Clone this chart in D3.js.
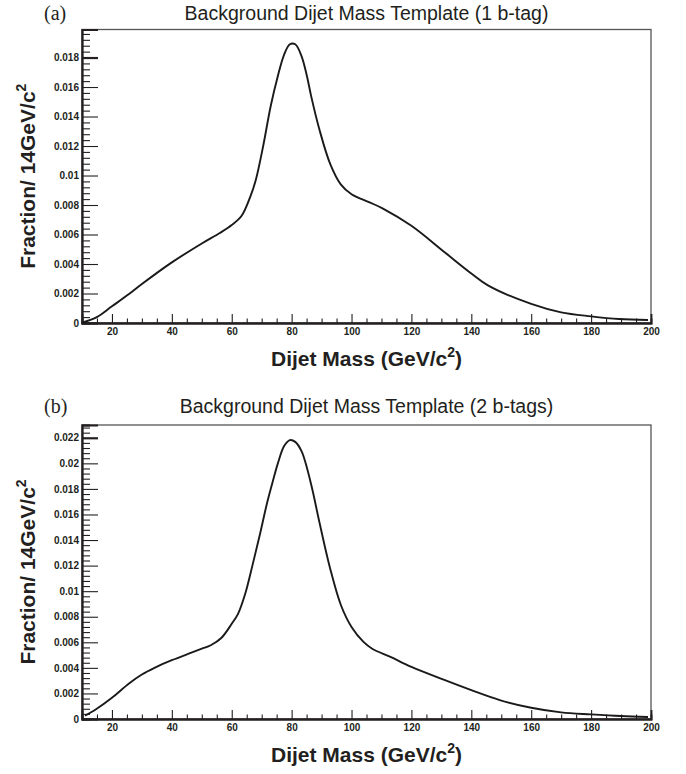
<!DOCTYPE html>
<html>
<head>
<meta charset="utf-8">
<script src="https://cdn.jsdelivr.net/npm/d3@7/dist/d3.min.js"></script>
<style>
  html, body { margin: 0; padding: 0; background: #fff; }
  svg { display: block; }
  .tick-label { font-family: "Liberation Sans", Arial, Helvetica, sans-serif; font-weight: bold; font-size: 10px; fill: #231f20; }
  .axis-title { font-family: "Liberation Sans", Arial, Helvetica, sans-serif; font-weight: bold; font-size: 21px; fill: #231f20; }
  .plot-title { font-family: "Liberation Sans", Arial, Helvetica, sans-serif; font-size: 19.5px; fill: #231f20; }
  .panel-tag { font-family: "Liberation Serif", "Times New Roman", serif; font-size: 20px; fill: #231f20; }
</style>
</head>
<body>
<svg id="chart" width="686" height="774"></svg>
<script>
// ---------------- data ----------------
const panelTags = ["(a)", "(b)"];
const panelTitles = ["Background Dijet Mass Template (1 b-tag)", "Background Dijet Mass Template (2 b-tags)"];
const xTitle = "Dijet Mass (GeV/c";
const yTitle = "Fraction/ 14GeV/c";

const xDomain = [10, 200];
const xTickValues = [20, 40, 60, 80, 100, 120, 140, 160, 180, 200];
const xTickLabels = ["20", "40", "60", "80", "100", "120", "140", "160", "180", "200"];
const xMinorStep = 5;

// Panel (a): 1 b-tag
const massA = [10, 14.8, 20, 25.7, 30, 40, 50, 56, 60, 63.3, 66.3, 68.1, 70.5, 73, 75.4, 77.5, 79.4, 81.2, 83.3, 85.1, 86.5, 89.3, 92.9, 96.4, 100, 105.8, 110.5, 120, 131.2, 140, 145.7, 160, 170, 180, 189.3, 199];
const fracA = [0.00002, 0.00038, 0.00113, 0.00196, 0.00264, 0.00411, 0.00539, 0.0061, 0.00664, 0.00727, 0.00862, 0.00975, 0.0120, 0.0147, 0.01675, 0.0182, 0.0189, 0.0189, 0.0181, 0.01675, 0.0154, 0.0131, 0.01077, 0.0094, 0.00873, 0.0082, 0.00776, 0.00659, 0.00478, 0.00336, 0.00253, 0.00129, 0.00072, 0.00045, 0.00027, 0.0002];
const yDomainA = [0, 0.0199];
const yTicksA = [0, 0.002, 0.004, 0.006, 0.008, 0.01, 0.012, 0.014, 0.016, 0.018];
const yTickLabelsA = ["0", "0.002", "0.004", "0.006", "0.008", "0.01", "0.012", "0.014", "0.016", "0.018"];

// Panel (b): 2 b-tags
const massB = [11, 14.8, 20, 25.7, 30, 34.2, 40, 46.3, 50, 53, 56.6, 60, 62.1, 64.5, 66.9, 69.3, 71.8, 73.9, 75.4, 77.5, 79.4, 81.2, 83.3, 85.1, 86.9, 89.3, 92.9, 96.5, 100, 104, 106.9, 113, 120, 131.2, 140, 149.5, 160, 170, 180, 190, 199];
const fracB = [0.00026, 0.00078, 0.00166, 0.00278, 0.00348, 0.0040, 0.0046, 0.00517, 0.0055, 0.00577, 0.00636, 0.00745, 0.00823, 0.0098, 0.0120, 0.01433, 0.0169, 0.01875, 0.0200, 0.02135, 0.02182, 0.02168, 0.02096, 0.01966, 0.01797, 0.01537, 0.01174, 0.00888, 0.0072, 0.00603, 0.0055, 0.00486, 0.00408, 0.00304, 0.00226, 0.00148, 0.00088, 0.00052, 0.00036, 0.00023, 0.00016];
const yDomainB = [0, 0.0230];
const yTicksB = [0, 0.002, 0.004, 0.006, 0.008, 0.01, 0.012, 0.014, 0.016, 0.018, 0.02, 0.022];
const yTickLabelsB = ["0", "0.002", "0.004", "0.006", "0.008", "0.01", "0.012", "0.014", "0.016", "0.018", "0.02", "0.022"];
const yMinorStep = 0.0004;

// ---------------- drawing ----------------
const svg = d3.select("#chart");
const ink = "#231f20";

function drawPanel(opt) {
  const left = 82, right = 651;
  const top = opt.top, bottom = opt.bottom;
  const g = svg.append("g");

  const x = d3.scaleLinear().domain(xDomain).range([left, right]);
  const y = d3.scaleLinear().domain(opt.yDomain).range([bottom, top]);

  // frame
  g.append("rect")
    .attr("x", left).attr("y", top)
    .attr("width", right - left).attr("height", bottom - top)
    .attr("fill", "none").attr("stroke", "#555").attr("stroke-width", 1.3);

  // x axis
  const xMinor = d3.range(15, xDomain[1] + 0.001, xMinorStep).filter(v => !xTickValues.includes(v));
  const xAxisMajor = d3.axisBottom(x).tickValues(xTickValues).tickSize(-9)
    .tickFormat((d, i) => xTickLabels[i]).tickPadding(14);
  const xAxisMinor = d3.axisBottom(x).tickValues(xMinor).tickSize(-4.5).tickFormat("");

  const gxm = g.append("g").attr("transform", `translate(0,${bottom})`).call(xAxisMinor);
  const gx = g.append("g").attr("transform", `translate(0,${bottom})`).call(xAxisMajor);
  [gx, gxm].forEach(a => {
    a.select(".domain").attr("stroke", ink).attr("stroke-width", 1.8);
    a.selectAll(".tick line").attr("stroke", ink).attr("stroke-width", 1.1);
  });
  gx.selectAll(".tick text").attr("class", "tick-label").attr("dy", "0.35em").attr("y", 8);

  // y axis
  const yMinor = d3.range(0, opt.yDomain[1] + 1e-9, yMinorStep)
    .filter(v => !opt.yTicks.some(t => Math.abs(t - v) < 1e-9));
  const yAxisMajor = d3.axisLeft(y).tickValues(opt.yTicks).tickSize(-16)
    .tickFormat((d, i) => opt.yTickLabels[i]).tickPadding(3);
  const yAxisMinor = d3.axisLeft(y).tickValues(yMinor).tickSize(-8).tickFormat("");
  const gym = g.append("g").attr("transform", `translate(${left},0)`).call(yAxisMinor);
  const gy = g.append("g").attr("transform", `translate(${left},0)`).call(yAxisMajor);
  [gy, gym].forEach(a => {
    a.select(".domain").attr("stroke", ink).attr("stroke-width", 1.8);
    a.selectAll(".tick line").attr("stroke", ink).attr("stroke-width", 1.1);
  });
  gy.selectAll(".tick text").attr("class", "tick-label").attr("x", -3);
  gy.selectAll(".tick line").filter(d => d === opt.heavyTick).attr("stroke-width", 2.2);

  // curve
  const line = d3.line()
    .x((d, i) => x(opt.xs[i]))
    .y((d, i) => y(opt.ys[i]))
    .curve(d3.curveCatmullRom.alpha(0.5));
  g.append("path")
    .datum(opt.xs)
    .attr("d", line)
    .attr("fill", "none")
    .attr("stroke", "#1a1a1a")
    .attr("stroke-width", 1.9)
    .attr("stroke-linejoin", "round");

  // titles
  g.append("text").attr("class", "panel-tag").attr("x", 44).attr("y", opt.titleY).text(opt.tag);
  g.append("text").attr("class", "plot-title").attr("x", (left + right) / 2).attr("y", opt.titleY)
    .attr("text-anchor", "middle").text(opt.title);

  const xt = g.append("text").attr("class", "axis-title")
    .attr("x", (left + right) / 2).attr("y", bottom + 43).attr("text-anchor", "middle");
  xt.append("tspan").text(xTitle);
  xt.append("tspan").attr("font-size", "14px").attr("dy", "-9").text("2");
  xt.append("tspan").attr("dy", "9").text(")");

  const yt = g.append("text").attr("class", "axis-title")
    .attr("transform", `translate(35,${(top + bottom) / 2}) rotate(-90)`)
    .attr("text-anchor", "middle");
  yt.append("tspan").text(yTitle);
  yt.append("tspan").attr("font-size", "14px").attr("dy", "-9").text("2");
}

drawPanel({ top: 29.5, bottom: 323, titleY: 20, tag: panelTags[0], title: panelTitles[0],
  xs: massA, ys: fracA, yDomain: yDomainA, yTicks: yTicksA, yTickLabels: yTickLabelsA, heavyTick: 0.018 });
drawPanel({ top: 425, bottom: 719, titleY: 413, tag: panelTags[1], title: panelTitles[1],
  xs: massB, ys: fracB, yDomain: yDomainB, yTicks: yTicksB, yTickLabels: yTickLabelsB, heavyTick: 0.022 });
</script>
</body>
</html>
